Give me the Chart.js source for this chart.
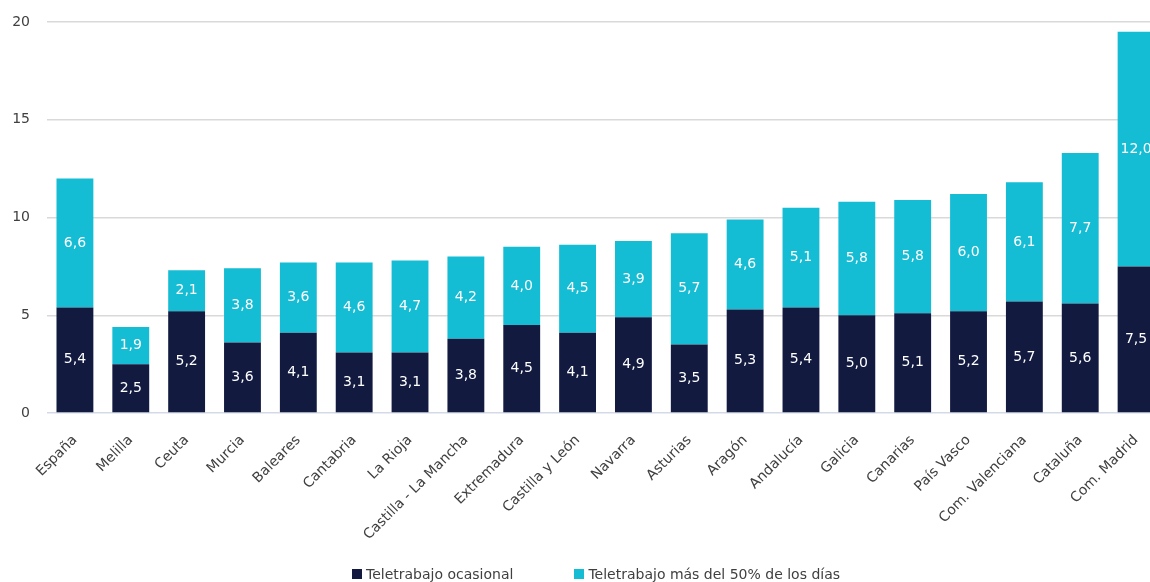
<!DOCTYPE html>
<html>
<head>
<meta charset="utf-8">
<script src="https://cdn.jsdelivr.net/npm/chart.js@4"></script>
<style>
  html, body { margin: 0; padding: 0; background: #ffffff; overflow: hidden; }
  #wrap { position: relative; width: 1168px; height: 582px; }
  #legend { position: absolute; left: 352px; top: 565px; display: flex; gap: 61px;
            font-family: 'DejaVu Sans', Verdana, sans-serif; font-size: 14px; color: #404040;
            line-height: 18px; white-space: nowrap; }
  .item { display: flex; align-items: center; }
  .box { width: 10px; height: 10px; margin-right: 4px; }
</style>
</head>
<body>
<div id="wrap">
  <canvas id="c" width="1168" height="582"></canvas>
  <div id="legend"></div>
</div>
<script>
const categories = ["España", "Melilla", "Ceuta", "Murcia", "Baleares", "Cantabria", "La Rioja",
  "Castilla - La Mancha", "Extremadura", "Castilla y León", "Navarra", "Asturias", "Aragón",
  "Andalucía", "Galicia", "Canarias", "País Vasco", "Com. Valenciana", "Cataluña", "Com. Madrid"];
const ocasional = [5.4, 2.5, 5.2, 3.6, 4.1, 3.1, 3.1, 3.8, 4.5, 4.1, 4.9, 3.5, 5.3, 5.4, 5.0, 5.1, 5.2, 5.7, 5.6, 7.5];
const masMitad = [6.6, 1.9, 2.1, 3.8, 3.6, 4.6, 4.7, 4.2, 4.0, 4.5, 3.9, 5.7, 4.6, 5.1, 5.8, 5.8, 6.0, 6.1, 7.7, 12.0];
const seriesNames = ["Teletrabajo ocasional", "Teletrabajo más del 50% de los días"];
const seriesColors = ['#121a40', '#14bcd4'];
const yTicks = [0, 5, 10, 15, 20];

const FONT = "'DejaVu Sans', Verdana, sans-serif";

const labelPlugin = {
  id: 'segLabels',
  afterDatasetsDraw(chart) {
    const ctx = chart.ctx;
    ctx.save();
    ctx.font = "14px " + FONT;
    ctx.fillStyle = '#ffffff';
    ctx.textAlign = 'center';
    ctx.textBaseline = 'middle';
    chart.data.datasets.forEach((ds, di) => {
      const meta = chart.getDatasetMeta(di);
      meta.data.forEach((el, i) => {
        const v = ds.data[i];
        const y = (el.y + el.base) / 2;
        ctx.fillText(v.toFixed(1).replace('.', ','), el.x, y);
      });
    });
    ctx.restore();
  }
};

const chart = new Chart(document.getElementById('c'), {
  type: 'bar',
  data: {
    labels: categories,
    datasets: [
      { label: seriesNames[0], data: ocasional, backgroundColor: seriesColors[0], borderWidth: 0 },
      { label: seriesNames[1], data: masMitad, backgroundColor: seriesColors[1], borderWidth: 0 }
    ]
  },
  options: {
    responsive: false,
    animation: false,
    devicePixelRatio: 1,
    layout: { padding: { top: 22, left: 0, right: 4, bottom: 0 } },
    plugins: {
      legend: { display: false },
      tooltip: { enabled: false }
    },
    scales: {
      x: {
        stacked: true,
        grid: { display: false },
        border: { display: false },
        ticks: {
          color: '#404040', font: { family: FONT, size: 14 },
          maxRotation: 45, minRotation: 45, autoSkip: false, padding: 11
        },
        afterFit(scale) { scale.height = 169; scale.paddingTop = 0; }
      },
      y: {
        stacked: true,
        min: 0, max: 20,
        afterBuildTicks(scale) { scale.ticks = yTicks.map(v => ({ value: v })); },
        grid: {
          color: ctx => ctx.tick && ctx.tick.value === 0 ? '#d3dae6' : '#d9d9d9',
          lineWidth: 1.5, drawTicks: false
        },
        border: { display: false },
        ticks: { color: '#404040', font: { family: FONT, size: 14 }, padding: 17 },
        afterFit(scale) { scale.width = 47; scale.paddingTop = 0; scale.paddingBottom = 0; }
      }
    },
    datasets: { bar: { categoryPercentage: 1, barPercentage: 0.66 } }
  },
  plugins: [labelPlugin]
});

// HTML legend built from the chart's datasets
const legendEl = document.getElementById('legend');
chart.data.datasets.forEach(ds => {
  const item = document.createElement('div');
  item.className = 'item';
  const box = document.createElement('span');
  box.className = 'box';
  box.style.background = ds.backgroundColor;
  const txt = document.createElement('span');
  txt.textContent = ds.label;
  item.appendChild(box);
  item.appendChild(txt);
  legendEl.appendChild(item);
});
</script>
</body>
</html>
